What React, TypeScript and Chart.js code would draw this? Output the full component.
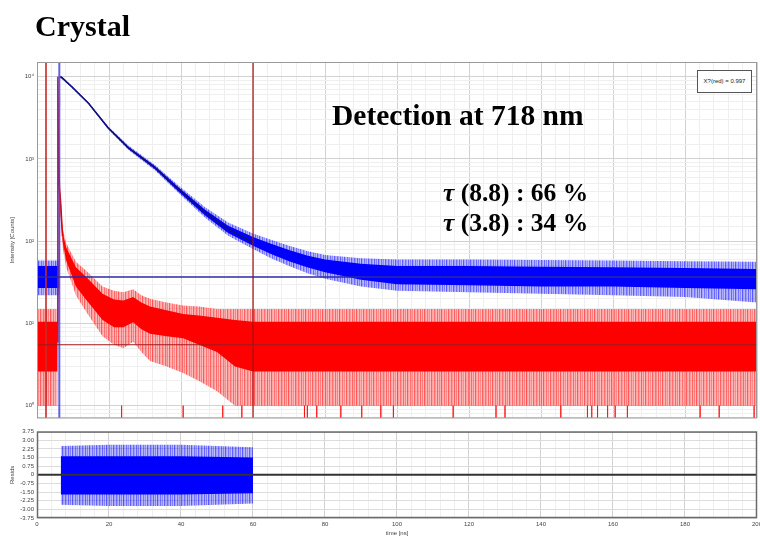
import React, { useEffect, useRef } from 'react';
import { Chart, registerables } from 'chart.js';
Chart.register(...registerables);

// ---------- data ----------
// Blue: measured decay (noise band read as core and fringe envelopes)
const blueTime = [0, 6.2, 6.35, 6.5, 7, 9.6, 14.3, 19.8, 25.4, 32.8, 39.3, 46.7, 53.1, 60, 65, 70, 75, 80, 90, 100, 120, 140, 160, 180, 200];
const blueFringeLow = [22, 22, 2600, 9500, 9300, 7350, 4600, 2280, 1280, 720, 385, 192, 116, 80, 62, 50, 41, 35, 28, 25, 24, 23, 22, 21, 18];
const blueCoreLow = [27, 27, 2800, 9700, 9500, 7450, 4680, 2320, 1315, 748, 402, 205, 126, 88, 70, 57, 48, 42, 34, 30, 29, 28, 28, 27, 26];
const blueCoreHigh = [50, 50, 3200, 10100, 9800, 7700, 4830, 2420, 1405, 812, 452, 240, 154, 112, 93, 78, 67, 60, 53, 50, 50, 49, 48, 47, 46];
const blueFringeHigh = [58, 58, 3400, 10300, 10000, 7800, 4900, 2470, 1450, 845, 475, 258, 168, 124, 104, 88, 76, 68, 62, 60, 60, 59, 58, 57, 56];

// Fit curve (dark navy)
const fitTime = [6.5, 7, 9.6, 14.3, 19.8, 25.4, 32.8, 39.3, 46.7, 53.1, 60];
const fitValues = [10000, 9650, 7570, 4750, 2370, 1360, 780, 427, 223, 140, 97];

// Red: instrument response (noise band envelopes)
const redTime = [0, 5.6, 5.7, 5.8, 6.3, 6.5, 7.1, 8.1, 10.8, 13.6, 18.2, 21.4, 24, 26.7, 29, 31.4, 36, 40.6, 45, 50, 55, 60, 80, 100, 120, 140, 160, 180, 200];
const redFringeLow = [1, 1, 2800, 9300, 330, 200, 85, 48, 22, 14, 7, 5.5, 5, 6, 4.5, 3.5, 3, 2.5, 2, 1.5, 1, 1, 1, 1, 1, 1, 1, 1, 1];
const redCoreLow = [2.6, 2.6, 3000, 9500, 360, 250, 100, 58, 28, 19.5, 11, 9, 9, 10.3, 8.5, 7.5, 7, 6.6, 5.5, 4.5, 3, 2.6, 2.6, 2.6, 2.6, 2.6, 2.6, 2.6, 2.6];
const redCoreHigh = [10.5, 10.5, 3500, 10000, 420, 380, 130, 84, 48, 37, 23, 19.5, 19, 21, 18, 16, 14.5, 13, 12.5, 11.7, 11, 10.5, 10.5, 10.5, 10.5, 10.5, 10.5, 10.5, 10.5];
const redFringeHigh = [15, 15, 3700, 10200, 460, 420, 145, 95, 56, 44, 28, 25, 24, 26, 22, 20, 18, 16.5, 16, 15, 15, 15, 15, 15, 15, 15, 15, 15, 15];
// IRF peak edge
const redPeakTime = [5.6, 5.8, 5.95, 6.3, 6.5, 7.1];
const redPeakValues = [6, 10000, 1200, 380, 330, 115];
// times where red counts drop to zero (spikes to the bottom)
const redZeroTimes = [23.5, 40.6, 51.6, 56.9, 74.3, 75.1, 77.7, 84.4, 90.2, 95.5, 99, 115.6, 127.5, 130, 145.5, 152.9, 154.1, 155.7, 158.5, 160.6, 164, 184.2, 189.5, 199.2];

// cursor lines
const redCursorTimes = [2.5, 60];
const blueCursorTime = 6.2;
const blueLevel = 36.6;
const redLevel = 5.5;

// Residuals band
const residTime = [6.6, 20, 40, 60];
const residFringeLow = [-2.6, -2.7, -2.7, -2.5];
const residCoreLow = [-1.7, -1.7, -1.7, -1.6];
const residCoreHigh = [1.6, 1.6, 1.6, 1.5];
const residFringeHigh = [2.5, 2.6, 2.6, 2.4];

// axes
const X_MIN = 0, X_MAX = 200, X_STEP = 4;
const Y_MIN = 0.71, Y_MAX = 15060;
const R_MIN = -3.75, R_MAX = 3.75, R_STEP = 0.75;

const SUP: Record<string, string> = { '0': '⁰', '1': '¹', '2': '²', '3': '³', '4': '⁴', '-': '⁻' };
const TICK_FONT = { family: 'Liberation Sans, Arial, sans-serif', size: 6 };
const STRIPE_ALPHAS = [0.6, 0.3, 0.5, 0.25, 0.65, 0.35, 0.28, 0.55, 0.32, 0.45, 0.25, 0.62, 0.36, 0.3, 0.56, 0.4, 0.27];

function stripes(rgb: string, alphas: number[]) {
  const c = document.createElement('canvas');
  c.width = alphas.length;
  c.height = 1;
  const x = c.getContext('2d')!;
  alphas.forEach((a, i) => {
    x.fillStyle = `rgba(${rgb},${a})`;
    x.fillRect(i, 0, 1, 1);
  });
  return x.createPattern(c, 'repeat');
}

function pts(xs: number[], ys: number[]) {
  return xs.map((x, i) => ({ x, y: ys[i] }));
}

function band(xs: number[], lo: number[], hi: number[], color: any, order: number) {
  return [
    { data: pts(xs, lo), borderWidth: 0, borderColor: 'rgba(0,0,0,0)', pointRadius: 0, fill: false, order },
    { data: pts(xs, hi), borderWidth: 0, borderColor: 'rgba(0,0,0,0)', backgroundColor: color, pointRadius: 0, fill: '-1', order },
  ];
}

function framePlugin(color: string, width: number) {
  return {
    id: 'frame',
    afterDraw(chart: any) {
      const { ctx, chartArea: a } = chart;
      ctx.save();
      ctx.strokeStyle = color;
      ctx.lineWidth = width;
      ctx.strokeRect(a.left + 0.5, a.top + 0.5, a.right - a.left - 1, a.bottom - a.top - 1);
      ctx.restore();
    },
  };
}

const xGridColor = (ctx: any) => {
  const v = ctx.tick ? ctx.tick.value : 0;
  return Math.abs(v % 20) < 1e-6 ? '#d2d2d2' : '#efefef';
};

function TopChart() {
  const ref = useRef<HTMLCanvasElement>(null);
  useEffect(() => {
    const spikes: any[] = [];
    redZeroTimes.forEach((t) => {
      spikes.push({ x: t, y: 1 }, { x: t, y: Y_MIN }, { x: t, y: null });
    });
    const vline = (t: number) => [{ x: t, y: Y_MIN }, { x: t, y: Y_MAX }];
    const blueStripe = stripes('0,0,255', STRIPE_ALPHAS);
    const redStripe = stripes('255,0,0', STRIPE_ALPHAS.slice(5).concat(STRIPE_ALPHAS.slice(0, 5)));
    const datasets: any[] = [
      ...band(blueTime, blueFringeLow, blueFringeHigh, blueStripe, 10),
      ...band(blueTime, blueCoreLow, blueCoreHigh, '#0000ff', 9),
      ...band(redTime, redFringeLow, redFringeHigh, redStripe, 8),
      ...band(redTime, redCoreLow, redCoreHigh, '#ff0000', 7),
      { data: spikes, borderColor: 'rgba(255,0,0,0.6)', borderWidth: 1, pointRadius: 0, fill: false, spanGaps: false, order: 6 },
      { data: pts(redPeakTime, redPeakValues), borderColor: '#e00000', borderWidth: 1.5, pointRadius: 0, fill: false, order: 5 },
      { data: pts(fitTime, fitValues), borderColor: '#12126e', borderWidth: 1.5, pointRadius: 0, fill: false, order: 2 },
      { data: [{ x: X_MIN, y: blueLevel }, { x: X_MAX, y: blueLevel }], borderColor: '#2a2aa8', borderWidth: 1.5, pointRadius: 0, fill: false, order: 1 },
      { data: [{ x: X_MIN, y: redLevel }, { x: X_MAX, y: redLevel }], borderColor: '#a01818', borderWidth: 1.2, pointRadius: 0, fill: false, order: 1 },
      { data: vline(redCursorTimes[0]), borderColor: 'rgba(200,40,40,0.8)', borderWidth: 2, pointRadius: 0, fill: false, order: 1 },
      { data: vline(redCursorTimes[1]), borderColor: '#a01010', borderWidth: 1.2, pointRadius: 0, fill: false, order: 1 },
      { data: vline(blueCursorTime), borderColor: 'rgba(70,70,220,0.85)', borderWidth: 2, pointRadius: 0, fill: false, order: 1 },
    ];
    const chart = new Chart(ref.current!, {
      type: 'line',
      data: { datasets },
      plugins: [framePlugin('#9a9a9a', 1)],
      options: {
        animation: false,
        responsive: false,
        devicePixelRatio: 1,
        layout: { padding: { top: 62, right: 8, bottom: 0, left: 9 } },
        plugins: { legend: { display: false }, tooltip: { enabled: false } },
        elements: { line: { tension: 0 } },
        scales: {
          x: {
            type: 'linear', min: X_MIN, max: X_MAX,
            ticks: { stepSize: X_STEP, display: false, autoSkip: false },
            grid: { color: xGridColor, drawTicks: false },
            border: { display: false },
            afterFit: (s: any) => { s.height = 5; },
          },
          y: {
            type: 'logarithmic', min: Y_MIN, max: Y_MAX,
            ticks: {
              autoSkip: false, font: TICK_FONT, color: '#444', padding: 3,
              callback: (v: any) => {
                const l = Math.log10(Number(v));
                const r = Math.round(l);
                return Math.abs(l - r) < 1e-6 ? '10' + String(r).split('').map((c) => SUP[c]).join('') : '';
              },
            },
            grid: {
              drawTicks: false,
              color: (ctx: any) => {
                const v = ctx.tick ? ctx.tick.value : 1;
                const l = Math.log10(v);
                return Math.abs(l - Math.round(l)) < 1e-6 ? '#d2d2d2' : '#efefef';
              },
            },
            border: { display: false },
            title: { display: true, text: 'Intensity [Counts]', font: TICK_FONT, color: '#444', padding: 0 },
            afterFit: (s: any) => { s.width = 28; },
          },
        },
      } as any,
    });
    return () => chart.destroy();
  }, []);
  return <canvas ref={ref} width={765} height={425} style={{ position: 'absolute', left: 0, top: 0, width: 765, height: 425 }} />;
}

function ResidChart() {
  const ref = useRef<HTMLCanvasElement>(null);
  useEffect(() => {
    const blueStripe = stripes('0,0,255', STRIPE_ALPHAS);
    const datasets: any[] = [
      ...band(residTime, residFringeLow, residFringeHigh, blueStripe, 10),
      ...band(residTime, residCoreLow, residCoreHigh, '#0000ff', 9),
      { data: [{ x: X_MIN, y: 0 }, { x: X_MAX, y: 0 }], borderColor: '#333', borderWidth: 2, pointRadius: 0, fill: false, order: 1 },
    ];
    const chart = new Chart(ref.current!, {
      type: 'line',
      data: { datasets },
      plugins: [framePlugin('#6a6a6a', 1.5)],
      options: {
        animation: false,
        responsive: false,
        devicePixelRatio: 1,
        layout: { padding: { top: 4.5, right: 8, bottom: 0, left: 9 } },
        plugins: { legend: { display: false }, tooltip: { enabled: false } },
        elements: { line: { tension: 0 } },
        scales: {
          x: {
            type: 'linear', min: X_MIN, max: X_MAX,
            ticks: {
              stepSize: X_STEP, autoSkip: false, maxRotation: 0, font: TICK_FONT, color: '#444', padding: 3,
              callback: (v: any) => (Math.abs(Number(v) % 20) < 1e-6 ? String(Math.round(Number(v))) : ''),
            },
            grid: { color: xGridColor, drawTicks: false },
            border: { display: false },
            title: { display: true, text: 'time [ns]', font: TICK_FONT, color: '#444', padding: 0 },
            afterFit: (s: any) => { s.height = 19; },
          },
          y: {
            type: 'linear', min: R_MIN, max: R_MAX,
            ticks: {
              stepSize: R_STEP, autoSkip: false, font: TICK_FONT, color: '#444', padding: 3,
              callback: (v: any) => (Math.abs(Number(v)) < 1e-9 ? '0' : Number(v).toFixed(2)),
            },
            grid: { color: '#dcdcdc', drawTicks: false },
            border: { display: false },
            title: { display: true, text: 'Resids', font: TICK_FONT, color: '#444', padding: 0 },
            afterFit: (s: any) => { s.width = 28; },
          },
        },
      } as any,
    });
    return () => chart.destroy();
  }, []);
  return <canvas ref={ref} width={765} height={112} style={{ position: 'absolute', left: 0, top: 425, width: 765, height: 112 }} />;
}

const serif = '"Liberation Serif", "Times New Roman", serif';

export default function App() {
  return (
    <div style={{ position: 'absolute', left: 0, top: 0, width: 760, height: 537, overflow: 'hidden', background: '#fff' }}>
      <TopChart />
      <ResidChart />
      <div style={{ position: 'absolute', left: 35, top: 11, font: `bold 30px/1 ${serif}`, color: '#000', whiteSpace: 'nowrap' }}>Crystal</div>
      <div style={{ position: 'absolute', left: 332, top: 100.5, font: `bold 29.5px/1 ${serif}`, color: '#000', whiteSpace: 'nowrap' }}>Detection at 718 nm</div>
      <div style={{ position: 'absolute', left: 443, top: 178, font: `bold 25.5px/30px ${serif}`, color: '#000', whiteSpace: 'nowrap' }}>
        <div><i>τ</i> (8.8) : 66 %</div>
        <div><i>τ</i> (3.8) : 34 %</div>
      </div>
      <div style={{ position: 'absolute', left: 697, top: 70, width: 53, height: 21, border: '1px solid #555', background: '#fff', font: `6px/21px "Liberation Sans", Arial, sans-serif`, color: '#222', textAlign: 'center', whiteSpace: 'nowrap' }}>X?(red) = 0.997</div>
    </div>
  );
}
